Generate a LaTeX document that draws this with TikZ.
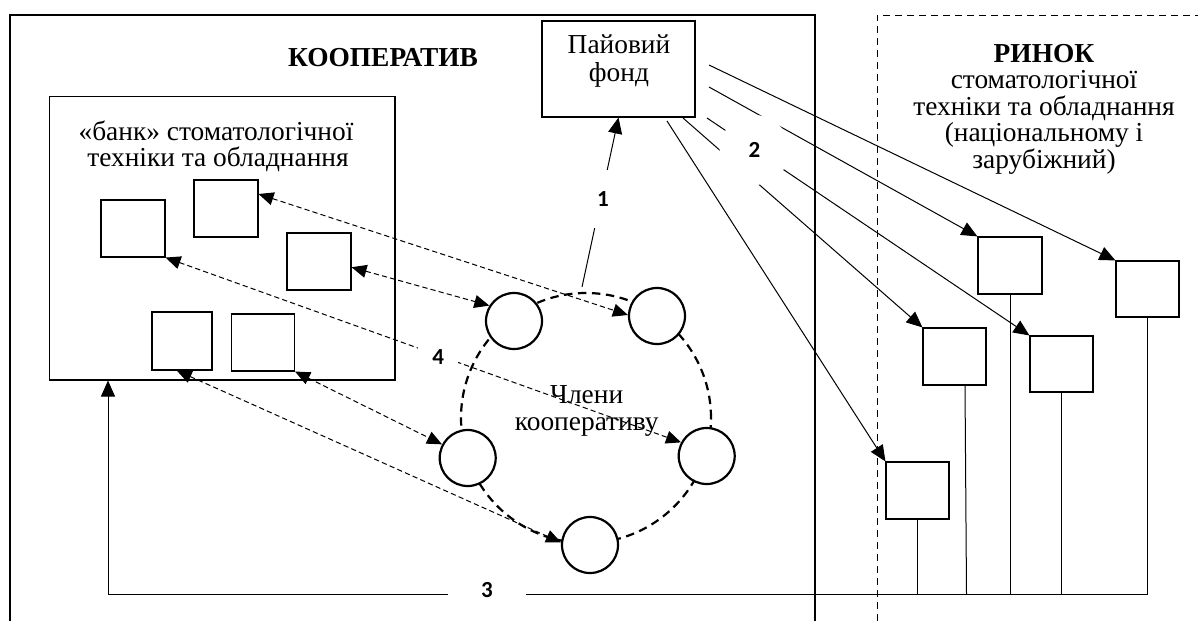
\documentclass[tikz,border=0pt]{standalone}
\usepackage{fontspec}
\setmainfont{Liberation Serif}
\newfontfamily\lblfont{Carlito}
\usetikzlibrary{arrows.meta,calc}
\begin{document}
\begin{tikzpicture}[x=0.5pt,y=-0.5pt,
  thinline/.style={line width=0.5pt},
  frame/.style={line width=0.55pt},
  mframe/.style={line width=0.5pt, dash pattern=on 3.5pt off 2.5pt},
  box/.style={draw, line width=0.55pt, minimum width=32pt, minimum height=28.5pt, inner sep=0pt},
  member/.style={draw, circle, line width=1.1pt, fill=white, minimum size=28pt, inner sep=0pt},
  ring/.style={draw, circle, line width=1.1pt, dash pattern=on 4.2pt off 2.8pt, minimum size=125pt, inner sep=0pt},
  sarr/.style={line width=0.5pt, -{Triangle[length=8pt,width=7pt]}},
  darr/.style={line width=0.5pt, dash pattern=on 2.6pt off 1.6pt, {Triangle[length=7.5pt,width=6.5pt]}-{Triangle[length=7.5pt,width=6.5pt]}},
  numlbl/.style={font=\lblfont\bfseries\fontsize{11.5}{13}\selectfont, fill=white, inner sep=0pt},
  txt/.style={font=\fontsize{13.7}{16}\selectfont, inner sep=0pt, anchor=base},
  btxt/.style={font=\bfseries\fontsize{13.7}{16}\selectfont, inner sep=0pt, anchor=base},
]
\useasboundingbox (0,0) rectangle (1198,621);
\fill[white] (0,0) rectangle (1198,621);

% frames
\draw[frame] (10,621) -- (10,15) -- (815,15) -- (815,621);
\draw[mframe] (877,621) -- (877,15) -- (1198,15);

% titles
\node[btxt] (koop) at (383,66.7) {КООПЕРАТИВ};
\node[btxt] (rynok) at (1044,62) {РИНОК};
\node[txt] (r1) at (1044,88.3) {стоматологічної};
\node[txt] (r2) at (1044,115) {техніки та обладнання};
\node[txt] (r3) at (1044,141.7) {(національному і};
\node[txt] (r4) at (1044,168.3) {зарубіжний)};

% bank
\node[draw, frame, minimum width=172.6pt, minimum height=141.6pt, inner sep=0pt] (bank) at (222.4,238.4) {};
\node[txt] (b1) at (216,140) {«банк» стоматологічної};
\node[txt] (b2) at (218,166) {техніки та обладнання};
\node[box] (sq1) at (133,228.5) {};
\node[box] (sq2) at (226,208.5) {};
\node[box] (sq3) at (319,261.5) {};
\node[box, minimum width=30pt, minimum height=29pt] (sq4) at (182,341) {};
\node[box, minimum width=31.5pt] (sq5) at (263,342.5) {};

% fund
\node[draw, frame, minimum width=76.5pt, minimum height=48pt, inner sep=0pt] (fund) at (618.5,69) {};
\node[txt] (ft1) at (619,53.3) {Пайовий};
\node[txt] (ft2) at (619,81.7) {фонд};

% market squares
\node[box] (mA) at (1010,265.5) {};
\node[box, minimum width=31.5pt, minimum height=28pt] (mB) at (1147.5,289) {};
\node[box, minimum width=31.5pt] (mC) at (954.5,356.5) {};
\node[box, minimum width=31.5pt, minimum height=28pt] (mD) at (1061.5,364) {};
\node[box, minimum width=31.5pt] (mE) at (917.5,490.5) {};

% members
\node[ring] (ring) at (586,418) {};
\node[member] (c1) at (514,321) {};
\node[member] (c2) at (657,316) {};
\node[member] (c3) at (467.7,458) {};
\node[member] (c4) at (706.7,456) {};
\node[member] (c5) at (590,545) {};

% fund -> market
\coordinate (f1) at (709,65);
\coordinate (f2) at (709,87);
\coordinate (f3) at (707,118);
\coordinate (f4) at (683,118);
\coordinate (f5) at (667,121);
\draw[sarr] (f1) -- (mB.north west);
\draw[sarr] (f2) -- (mA.north west);
\draw[sarr] (f3) -- (mD.north west);
\draw[sarr] (f4) -- (mC.north west);
\draw[sarr] (f5) -- (mE.north west);

% members -> fund
\coordinate (rtop) at (582,287);
\draw[sarr] (rtop) -- (fund.south);

% market -> bank
\coordinate (corner3) at (108,594.5);
\draw[sarr] (mB.south) |- (corner3) -- (corner3 |- bank.south);
\draw[thinline] (mE.south) -- (mE.south |- corner3);
\draw[thinline] ($(mC.south)+(10.5,0)$) -- ($(mC.south |- corner3)+(12,0)$);
\draw[thinline] (mA.south) -- (mA.south |- corner3);
\draw[thinline] (mD.south) -- (mD.south |- corner3);

% bank <-> members
\draw[darr] (sq2.24) -- (c2.178);
\draw[darr] (sq3.-10) -- (c1.148);
\draw[darr] (sq1.south east) -- (c4.152);
\draw[darr] (sq5.south east) -- (c3.152);
\draw[darr] (sq4.-100) -- (c5.175);

% number labels
\node[numlbl, minimum width=11pt, minimum height=29pt] (n1) at (603,199) {1};
\node[numlbl, circle, minimum size=35pt] (n2) at (754.5,150) {2};
\node[numlbl, minimum width=39pt, minimum height=9pt] (n3) at (487,590.5) {3};
\node[numlbl, minimum width=20pt, minimum height=13pt] (n4) at (438.3,356.7) {4};

\node[txt] (m1) at (586.7,403.3) {Члени};
\node[txt] (m2) at (586.7,430) {кооперативу};
\end{tikzpicture}
\end{document}
